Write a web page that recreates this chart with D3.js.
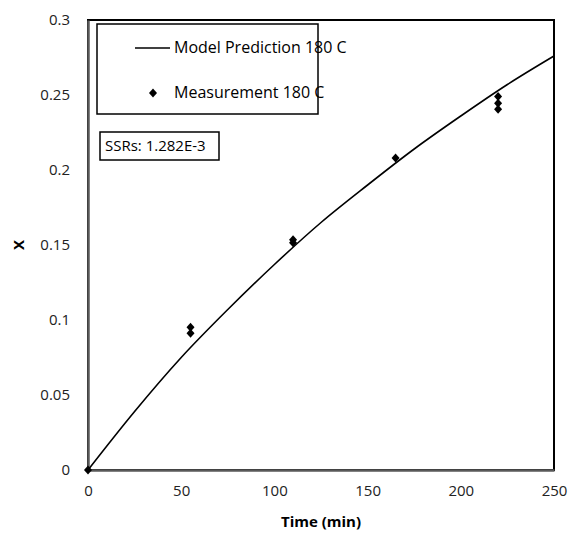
<!DOCTYPE html>
<html>
<head>
<meta charset="utf-8">
<script src="https://cdn.jsdelivr.net/npm/d3@7"></script>
<style>
body { margin: 0; background: #fff; }
text { font-family: "Open Sans", "Noto Sans", sans-serif; }
</style>
</head>
<body>
<div id="chart"></div>
<script>
// model curve (time, X)
var modelTime = [0, 25, 50, 75, 100, 125, 150, 175, 200, 225, 250];
var modelX = [0, 0.039, 0.075, 0.107, 0.137, 0.165, 0.19, 0.214, 0.236, 0.257, 0.276];

// measurements
var measTime = [0, 55, 55, 110, 110, 165, 220, 220, 220];
var measX = [0, 0.0951, 0.0911, 0.1535, 0.1515, 0.208, 0.249, 0.2445, 0.2405];

var xTicks = [0, 50, 100, 150, 200, 250];
var yTicks = [0, 0.05, 0.1, 0.15, 0.2, 0.25, 0.3];

var margin = {top: 20, right: 17, bottom: 63, left: 88},
    width = 571 - margin.left - margin.right,
    height = 533 - margin.top - margin.bottom;

var svg = d3.select("#chart")
    .append("svg")
        .attr("width", 571)
        .attr("height", 533)
    .append("g")
        .attr("transform", "translate(" + margin.left + "," + margin.top + ")");

var x = d3.scaleLinear().domain([0, 250]).range([0, width]);
var y = d3.scaleLinear().domain([0, 0.3]).range([height, 0]);

// plot frame
svg.append("rect")
    .attr("width", width)
    .attr("height", height)
    .attr("fill", "none")
    .attr("stroke", "#000")
    .attr("stroke-width", 2);

// axes
var xAxis = svg.append("g")
    .attr("transform", "translate(0," + height + ")")
    .call(d3.axisBottom(x).tickValues(xTicks).tickSize(0).tickPadding(15).tickFormat(d3.format("d")));
var yAxis = svg.append("g")
    .call(d3.axisLeft(y).tickValues(yTicks).tickSize(0).tickPadding(18).tickFormat(function(d) { return d3.format("")(d); }));

[xAxis, yAxis].forEach(function(a) {
    a.select(".domain").attr("stroke", "#595959").attr("stroke-width", 2.5);
    a.selectAll("text")
        .attr("font-size", "15px")
        .attr("fill", "#222")
        .style("font-family", "'Open Sans', sans-serif");
});

// axis titles
svg.append("text")
    .attr("x", width / 2)
    .attr("y", height + 57)
    .attr("text-anchor", "middle")
    .attr("font-size", "15px")
    .attr("font-weight", "bold")
    .text("Time (min)");

svg.append("text")
    .attr("transform", "rotate(-90)")
    .attr("x", -y(0.15))
    .attr("y", -64)
    .attr("text-anchor", "middle")
    .attr("font-size", "15px")
    .attr("font-weight", "bold")
    .text("X");

// model line
var line = d3.line()
    .x(function(d, i) { return x(modelTime[i]); })
    .y(function(d) { return y(d); })
    .curve(d3.curveMonotoneX);

svg.append("path")
    .datum(modelX)
    .attr("d", line)
    .attr("fill", "none")
    .attr("stroke", "#000")
    .attr("stroke-width", 1.6);

// diamond marker
var diamond = "M0,-4.5L4,0L0,4.5L-4,0Z";

svg.append("g")
    .selectAll("path")
    .data(measX)
    .enter()
    .append("path")
    .attr("d", diamond)
    .attr("transform", function(d, i) { return "translate(" + x(measTime[i]) + "," + y(d) + ")"; })
    .attr("fill", "#000");

// legend box
var legend = svg.append("g").attr("transform", "translate(9,4)");
legend.append("rect")
    .attr("width", 221)
    .attr("height", 90)
    .attr("fill", "#fff")
    .attr("stroke", "#000")
    .attr("stroke-width", 1.5);
legend.append("line")
    .attr("x1", 38).attr("x2", 73)
    .attr("y1", 24).attr("y2", 24)
    .attr("stroke", "#000")
    .attr("stroke-width", 1.6);
legend.append("text")
    .attr("x", 77).attr("y", 29)
    .attr("font-size", "16px")
    .text("Model Prediction 180 C");
legend.append("path")
    .attr("d", diamond)
    .attr("transform", "translate(56,69)")
    .attr("fill", "#000");
legend.append("text")
    .attr("x", 77).attr("y", 74)
    .attr("font-size", "16px")
    .text("Measurement 180 C");

// SSR box
var ssr = svg.append("g").attr("transform", "translate(12,112)");
ssr.append("rect")
    .attr("width", 119)
    .attr("height", 28)
    .attr("fill", "#fff")
    .attr("stroke", "#000")
    .attr("stroke-width", 1.5);
ssr.append("text")
    .attr("x", 5).attr("y", 19)
    .attr("font-size", "15px")
    .text("SSRs: 1.282E-3");
</script>
</body>
</html>
